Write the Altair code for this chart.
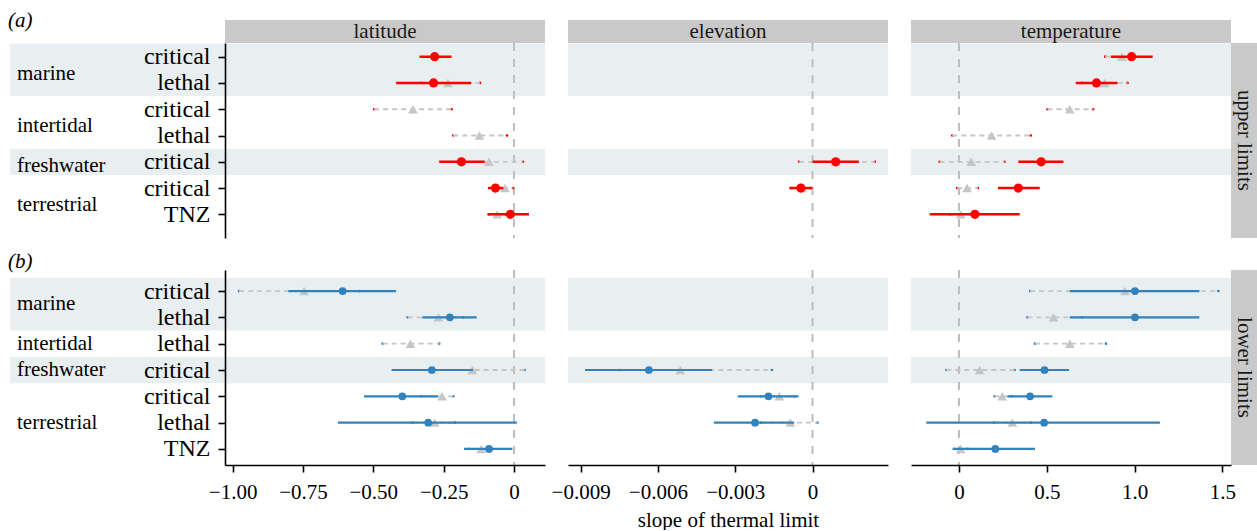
import altair as alt
import pandas as pd

FONT = "Liberation Serif"
RED = "#ff0000"
BLUE = "#3182bd"
GREY = "#c6c6c6"
ZERO = "#bdbdbd"
BAND = "#e9eef0"
STRIP = "#c9c9c9"

variables = ["latitude", "elevation", "temperature"]
limit_labels = ["upper limits", "lower limits"]
panel_tags = ["(a)", "(b)"]

upper_habitat = ["marine", "marine", "intertidal", "intertidal", "freshwater", "terrestrial", "terrestrial"]
upper_metric = ["critical", "lethal", "critical", "lethal", "critical", "critical", "TNZ"]
lower_habitat = ["marine", "marine", "intertidal", "freshwater", "terrestrial", "terrestrial", "terrestrial"]
lower_metric = ["critical", "lethal", "lethal", "critical", "critical", "lethal", "TNZ"]
shaded = ["marine", "freshwater"]

# (estimate, lower CI, upper CI) per row; None = no estimate
upper_latitude_fit = [(-0.282, -0.336, -0.222), (-0.286, -0.419, -0.152), None, None,
                      (-0.187, -0.266, -0.104), (-0.066, -0.093, -0.038), (-0.013, -0.093, 0.053)]
upper_latitude_raw = [None, (-0.235, -0.330, -0.121), (-0.359, -0.497, -0.222), (-0.123, -0.216, -0.025),
                      (-0.089, -0.200, 0.032), (-0.032, -0.070, -0.004), (-0.060, -0.090, -0.030)]
upper_elevation_fit = [None, None, None, None, (0.0009, 0.0, 0.0018), (-0.00045, -0.0009, 0.0), None]
upper_elevation_raw = [None, None, None, None, (0.0009, -0.00052, 0.00242), (-0.0004, -0.0008, -0.0001), None]
upper_temperature_fit = [(0.983, 0.865, 1.103), (0.783, 0.665, 0.903), None, None,
                         (0.468, 0.338, 0.595), (0.338, 0.222, 0.460), (0.091, -0.167, 0.346)]
upper_temperature_raw = [(0.928, 0.833, 1.0), (0.831, 0.70, 0.960), (0.631, 0.504, 0.764), (0.186, -0.038, 0.409),
                         (0.070, -0.110, 0.259), (0.046, -0.010, 0.108), (0.010, -0.05, 0.07)]

lower_latitude_fit = [(-0.609, -0.802, -0.419), (-0.228, -0.326, -0.133), None, (-0.292, -0.435, -0.146),
                      (-0.397, -0.533, -0.269), (-0.305, -0.626, 0.010), (-0.089, -0.178, -0.006)]
lower_latitude_raw = [(-0.746, -0.977, -0.55), (-0.269, -0.378, -0.18), (-0.368, -0.467, -0.266),
                      (-0.148, -0.30, 0.038), (-0.256, -0.33, -0.216), (-0.282, -0.36, -0.21), (-0.117, -0.16, -0.08)]
lower_elevation_fit = [None, None, None, (-0.00635, -0.00883, -0.00390), (-0.00171, -0.00290, -0.00054),
                       (-0.00223, -0.00383, -0.00071), None]
lower_elevation_raw = [None, None, None, (-0.00513, -0.0075, -0.00158), (-0.00129, -0.0020, -0.0007),
                       (-0.00086, -0.0020, 0.00019), None]
lower_temperature_fit = [(1.002, 0.631, 1.369), (1.002, 0.631, 1.369), None, (0.487, 0.346, 0.627),
                         (0.405, 0.276, 0.532), (0.485, -0.186, 1.144), (0.207, -0.029, 0.433)]
lower_temperature_raw = [(0.945, 0.405, 1.477), (0.538, 0.390, 0.70), (0.631, 0.433, 0.837), (0.118, -0.072, 0.317),
                         (0.247, 0.203, 0.30), (0.304, 0.2, 0.41), (0.010, -0.03, 0.05)]

x_domains = {"latitude": [-1.027, 0.110], "elevation": [-0.00949, 0.00293], "temperature": [-0.273, 1.549]}
x_ticks = {"latitude": [-1.0, -0.75, -0.5, -0.25, 0.0],
           "elevation": [-0.009, -0.006, -0.003, 0.0],
           "temperature": [0.0, 0.5, 1.0, 1.5]}
x_formats = {"latitude": ".2f", "elevation": ".3f", "temperature": ".1f"}

W = 320
H = 195
LEFT = -215


def ci_df(vals):
    recs = [dict(row=i, est=v[0], lo=v[1], hi=v[2]) for i, v in enumerate(vals) if v is not None]
    return pd.DataFrame(recs, columns=["row", "est", "lo", "hi"])


def make_panel(li, vi, fit, raw, habitats, metrics):
    var = variables[vi]
    upper = li == 0
    col = RED if upper else BLUE
    ydom = [-0.52, 6.9] if upper else [-0.8, 6.61]
    xs = alt.Scale(domain=x_domains[var], nice=False, zero=False)
    ys = alt.Scale(domain=ydom, reverse=True, nice=False, zero=False)

    if upper:
        xaxis = None
        xtitle = None
    else:
        fmt = x_formats[var]
        xaxis = alt.Axis(values=x_ticks[var],
                         labelExpr=f"datum.value == 0 ? '0' : format(datum.value, '{fmt}')",
                         domainColor="black", domainWidth=1.6, tickColor="black", tickWidth=1.6,
                         tickSize=7, labelFontSize=21, labelColor="black", labelPadding=9,
                         labelFont=FONT, titleFont=FONT, titleFontSize=21, titleFontWeight="normal",
                         titleColor="black", titlePadding=7, grid=False, zindex=1)
        xtitle = "slope of thermal limit" if vi == 1 else None

    if vi == 0:
        arr = "[" + ",".join(f"'{m}'" for m in metrics) + "]"
        yaxis = alt.Axis(values=list(range(len(metrics))), labelExpr=f"{arr}[datum.value]",
                         domainColor="black", domainWidth=1.6, tickColor="black", tickWidth=1.6,
                         tickSize=7, labelFontSize=24, labelColor="black", labelPadding=8,
                         labelFont=FONT, grid=False, zindex=1, title=None)
    else:
        yaxis = None

    bands = []
    for h in shaded:
        idx = [i for i, x in enumerate(habitats) if x == h]
        bands.append(dict(habitat=h, y1=min(idx) - 0.5, y2=max(idx) + 0.5))
    bands = pd.DataFrame(bands)

    layers = []
    layers.append(alt.Chart(bands).mark_rect(color=BAND).encode(
        x=alt.value(LEFT if vi == 0 else 0), x2=alt.value(W),
        y=alt.Y("y1:Q", scale=ys, axis=yaxis, title=None), y2="y2:Q"))

    layers.append(alt.Chart(pd.DataFrame({"zero": [0.0]})).mark_rule(
        color=ZERO, strokeWidth=2, strokeDash=[8, 8]).encode(
        x=alt.X("zero:Q", scale=xs, axis=xaxis, title=xtitle)))

    rdf = ci_df(raw)
    fdf = ci_df(fit)
    # small coloured caps at the ends of the raw intervals
    for end in ["lo", "hi"]:
        layers.append(alt.Chart(rdf).mark_circle(color=col, size=7, opacity=1).encode(
            x=alt.X(f"{end}:Q", scale=xs, axis=xaxis, title=xtitle),
            y=alt.Y("row:Q", scale=ys, axis=yaxis, title=None)))
    layers.append(alt.Chart(rdf).mark_rule(color=GREY, strokeWidth=1.8, strokeDash=[5, 4]).encode(
        x=alt.X("lo:Q", scale=xs, axis=xaxis, title=xtitle), x2="hi:Q",
        y=alt.Y("row:Q", scale=ys, axis=yaxis, title=None)))
    layers.append(alt.Chart(rdf).mark_point(shape="triangle-up", filled=True, color=GREY, size=95, opacity=1).encode(
        x=alt.X("est:Q", scale=xs, axis=xaxis, title=xtitle),
        y=alt.Y("row:Q", scale=ys, axis=yaxis, title=None)))
    layers.append(alt.Chart(fdf).mark_rule(color=col, strokeWidth=2.5 if upper else 2.2).encode(
        x=alt.X("lo:Q", scale=xs, axis=xaxis, title=xtitle), x2="hi:Q",
        y=alt.Y("row:Q", scale=ys, axis=yaxis, title=None)))
    layers.append(alt.Chart(fdf).mark_circle(color=col, size=85 if upper else 60, opacity=1).encode(
        x=alt.X("est:Q", scale=xs, axis=xaxis, title=xtitle),
        y=alt.Y("row:Q", scale=ys, axis=yaxis, title=None)))

    if upper:
        sdf = pd.DataFrame({"label": [var]})
        layers.append(alt.Chart(sdf).mark_rect(color=STRIP).encode(
            x=alt.value(0), x2=alt.value(W), y=alt.value(-23), y2=alt.value(0)))
        layers.append(alt.Chart(sdf).mark_text(fontSize=21, font=FONT, color="#1a1a1a", baseline="middle").encode(
            x=alt.value(W / 2), y=alt.value(-11), text="label:N"))

    if vi == 2:
        rdf2 = pd.DataFrame({"label": [limit_labels[li]]})
        layers.append(alt.Chart(rdf2).mark_rect(color=STRIP).encode(
            x=alt.value(W), x2=alt.value(W + 26), y=alt.value(0), y2=alt.value(H)))
        layers.append(alt.Chart(rdf2).mark_text(fontSize=21, font=FONT, color="#1a1a1a", angle=90,
                                                baseline="middle").encode(
            x=alt.value(W + 13), y=alt.value(H / 2), text="label:N"))

    if vi == 0:
        hab = []
        for h in dict.fromkeys(habitats):
            idx = [i for i, x in enumerate(habitats) if x == h]
            hab.append(dict(habitat=h, pos=sum(idx) / len(idx) + (0.15 if upper else 0.0)))
        hdf = pd.DataFrame(hab)
        layers.append(alt.Chart(hdf).mark_text(fontSize=21, font=FONT, color="black", align="left",
                                               baseline="middle").encode(
            x=alt.value(-208), y=alt.Y("pos:Q", scale=ys, axis=yaxis, title=None), text="habitat:N"))
        tdf = pd.DataFrame({"tag": [panel_tags[li]]})
        layers.append(alt.Chart(tdf).mark_text(fontSize=21, font=FONT, color="black", align="left",
                                               baseline="middle", fontStyle="italic").encode(
            x=alt.value(-217), y=alt.value(-22 if upper else -8), text="tag:N"))

    return alt.layer(*layers).properties(width=W, height=H)


fits = {
    (0, 0): (upper_latitude_fit, upper_latitude_raw),
    (0, 1): (upper_elevation_fit, upper_elevation_raw),
    (0, 2): (upper_temperature_fit, upper_temperature_raw),
    (1, 0): (lower_latitude_fit, lower_latitude_raw),
    (1, 1): (lower_elevation_fit, lower_elevation_raw),
    (1, 2): (lower_temperature_fit, lower_temperature_raw),
}

panels = []
for li in range(2):
    hab = upper_habitat if li == 0 else lower_habitat
    met = upper_metric if li == 0 else lower_metric
    for vi in range(3):
        panels.append(make_panel(li, vi, fits[(li, vi)][0], fits[(li, vi)][1], hab, met))

chart = alt.concat(*panels, columns=3, spacing={"row": 32, "column": 23}, bounds="flush").properties(
    padding={"left": 8, "top": 10, "right": 0, "bottom": 0}
).configure(font=FONT).configure_view(stroke=None).configure_axis(grid=False)

chart.save("out.html", embed_options={"renderer": "svg", "actions": False})
